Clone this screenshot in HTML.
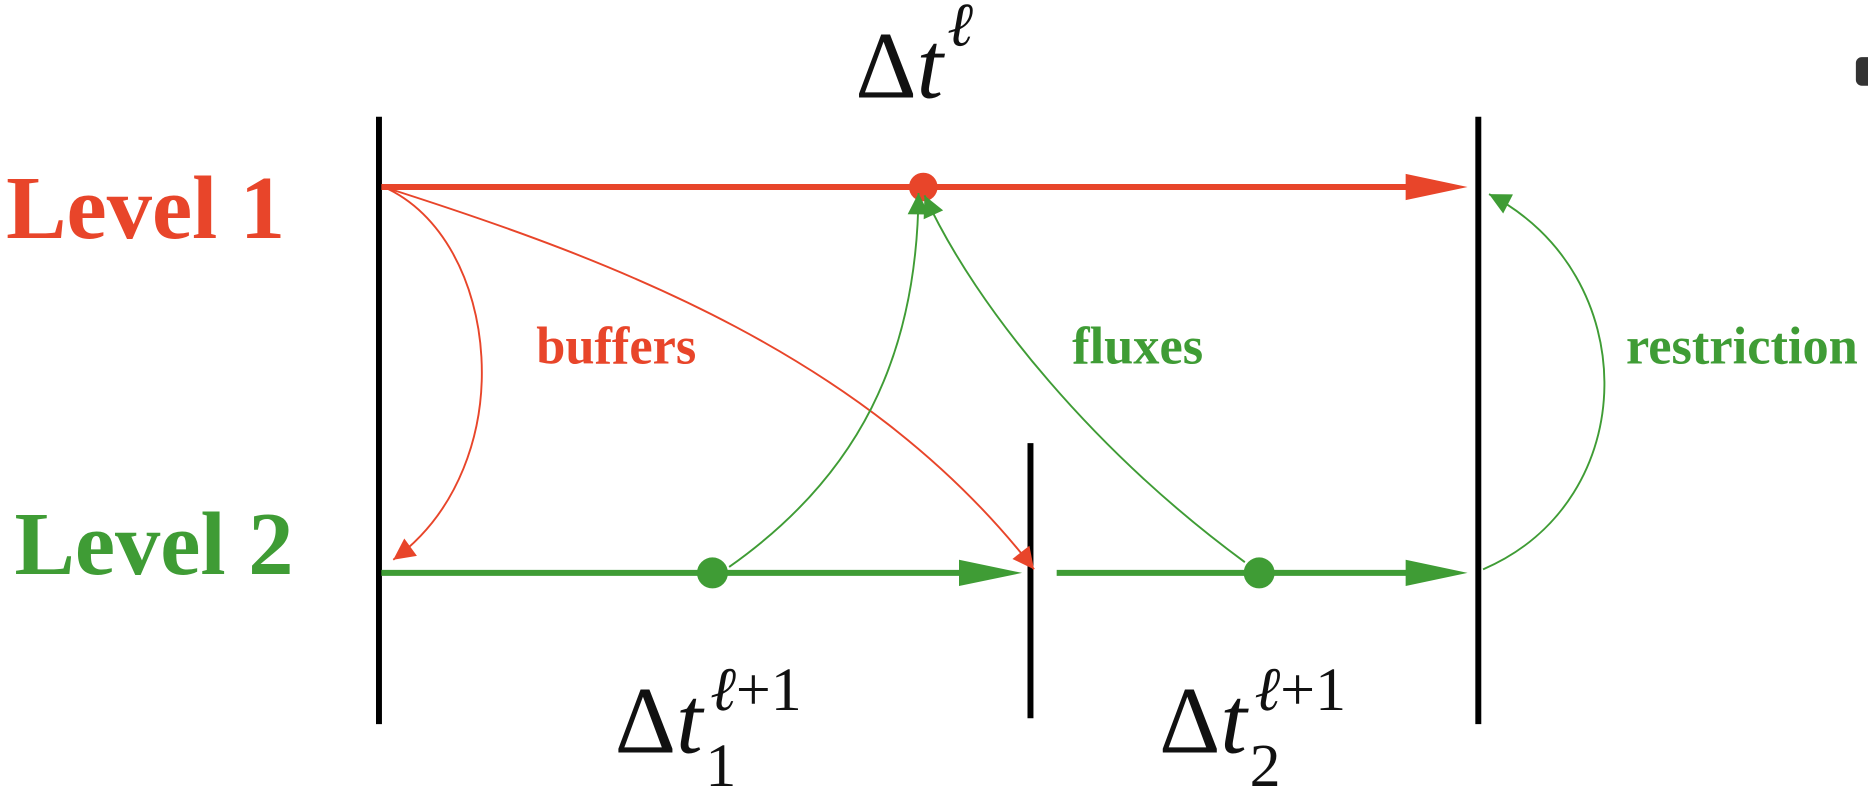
<!DOCTYPE html>
<html><head><style>html,body{margin:0;padding:0;background:#fff;overflow:hidden}svg{display:block}</style></head>
<body>
<svg width="1868" height="798" viewBox="0 0 1568 670" xmlns="http://www.w3.org/2000/svg">
<defs>
<marker id="rs" viewBox="0 0 10 10" refX="10" refY="5" markerWidth="34" markerHeight="18" markerUnits="userSpaceOnUse" orient="auto"><path d="M0,0 L10,5 L0,10 z" fill="#e8452a"/></marker>
<marker id="gs" viewBox="0 0 10 10" refX="10" refY="5" markerWidth="34" markerHeight="18" markerUnits="userSpaceOnUse" orient="auto"><path d="M0,0 L10,5 L0,10 z" fill="#3f9c35"/></marker>
</defs>
<g stroke="#000" stroke-width="5">
<line x1="318" y1="98" x2="318" y2="608"/>
<line x1="865" y1="372" x2="865" y2="603"/>
<line x1="1241" y1="98" x2="1241" y2="608"/>
</g>
<line x1="320" y1="157" x2="1190" y2="157" stroke="#e8452a" stroke-width="5"/>
<path d="M1180,146 L1232,157 L1180,168 z" fill="#e8452a"/>
<circle cx="775" cy="157" r="12" fill="#e8452a"/>
<line x1="320" y1="481" x2="820" y2="481" stroke="#3f9c35" stroke-width="5"/>
<path d="M805,470 L858,481 L805,492 z" fill="#3f9c35"/>
<line x1="887" y1="481" x2="1190" y2="481" stroke="#3f9c35" stroke-width="5"/>
<path d="M1180,470 L1232,481 L1180,492 z" fill="#3f9c35"/>
<circle cx="598" cy="481" r="13" fill="#3f9c35"/>
<circle cx="1057" cy="481" r="13" fill="#3f9c35"/>
<g fill="none" stroke-width="1.6">
<path d="M322,157 C420,200 440,390 330,470" stroke="#e8452a" marker-end="url(#rs)"/>
<path d="M322,157 C520,220 730,300 868,478" stroke="#e8452a" marker-end="url(#rs)"/>
<path d="M612,476 C720,400 770,300 771,162" stroke="#3f9c35" marker-end="url(#gs)"/>
<path d="M1045,472 C920,380 820,260 776,164" stroke="#3f9c35" marker-end="url(#gs)"/>
<path d="M1245,478 C1380,420 1380,230 1250,163" stroke="#3f9c35" marker-end="url(#gs)"/>
</g>
<g font-family="Liberation Serif, serif" font-weight="bold">
<text x="5" y="200" font-size="76" fill="#e8452a">Level 1</text>
<text x="12" y="482" font-size="76" fill="#3f9c35">Level 2</text>
<text x="450" y="305" font-size="44" fill="#e8452a">buffers</text>
<text x="900" y="305" font-size="44" fill="#3f9c35">fluxes</text>
<text x="1365" y="305" font-size="44" fill="#3f9c35">restriction</text>
</g>
<g font-family="Liberation Serif, serif" fill="#111">
<text x="718" y="82" font-size="80">Δ<tspan font-style="italic">t</tspan></text>
<text x="795" y="38" font-size="52" font-style="italic">ℓ</text>
<text x="516" y="632" font-size="80">Δ<tspan font-style="italic">t</tspan></text>
<text x="596" y="596" font-size="52"><tspan font-style="italic">ℓ</tspan>+1</text>
<text x="592" y="660" font-size="52">1</text>
<text x="973" y="632" font-size="80">Δ<tspan font-style="italic">t</tspan></text>
<text x="1053" y="596" font-size="52"><tspan font-style="italic">ℓ</tspan>+1</text>
<text x="1049" y="660" font-size="52">2</text>
</g>
<rect x="1558" y="48" width="20" height="24" rx="5" fill="#333"/>
</svg>
</body></html>
